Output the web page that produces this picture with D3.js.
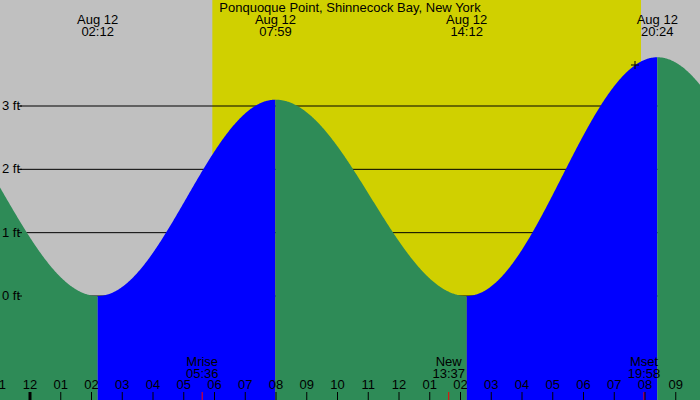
<!DOCTYPE html><html><head><script src="https://cdn.jsdelivr.net/npm/d3@7"></script>
<style>body{margin:0}svg{display:block;font-family:"Liberation Sans",Arial,sans-serif}</style></head><body><svg width="700" height="400"></svg><script>
const extremeHours=[-4.0,2.2,7.983,14.2,20.4,26.6];
const extremeFeet=[3.3,0.0,3.1,0.0,3.77,0.1];
const topLabels=[{h:2.2,t:"02:12"},{h:7.983,t:"07:59"},{h:14.2,t:"14:12"},{h:20.4,t:"20:24"}];
const sunrise=5.93, sunset=19.87;
const moonEvents=[{h:5.6,a:"Mrise",b:"05:36"},{h:13.617,a:"New",b:"13:37"},{h:19.967,a:"Mset",b:"19:58"}];
const hourTicks=d3.range(-1,22);
const ftTicks=[0,1,2,3];
const FS=13;
const svg=d3.select("svg");
const x=d3.scaleLinear().domain([0,8]).range([30,276]);
const y=d3.scaleLinear().domain([0,3]).range([296,106]);
function tide(h){let i=0;while(i<extremeHours.length-2&&h>extremeHours[i+1])i++;
 const h0=extremeHours[i],h1=extremeHours[i+1],v0=extremeFeet[i],v1=extremeFeet[i+1];
 const f=(h-h0)/(h1-h0);return v1+(v0-v1)*(1+Math.cos(Math.PI*f))/2;}
const h0=x.invert(0),h1=x.invert(700);
svg.append("rect").attr("width",700).attr("height",400).attr("fill","#c0c0c0");
svg.append("rect").attr("x",x(sunrise)).attr("width",x(sunset)-x(sunrise)).attr("height",400).attr("fill","#d0d000");
ftTicks.forEach(f=>{svg.append("line").attr("x1",20).attr("x2",700).attr("y1",y(f)).attr("y2",y(f)).attr("stroke","#000");});
const area=d3.area().x(d=>x(d)).y0(400).y1(d=>y(tide(d)));
function seg(a,b,col){const pts=d3.range(a,b,0.02).concat([b]);svg.append("path").attr("d",area(pts)).attr("fill",col);}
seg(h0,extremeHours[1],"#2e8b57");seg(extremeHours[1],extremeHours[2],"#0000ff");
seg(extremeHours[2],extremeHours[3],"#2e8b57");seg(extremeHours[3],extremeHours[4],"#0000ff");
seg(extremeHours[4],h1,"#2e8b57");
ftTicks.forEach(f=>{svg.append("line").attr("x1",18).attr("x2",22).attr("y1",y(f)).attr("y2",y(f)).attr("stroke","#000");
 svg.append("text").attr("x",2).attr("y",y(f)+4).attr("font-size",FS).text(f+" ft");});
svg.append("text").attr("x",350).attr("y",12).attr("text-anchor","middle").attr("font-size",FS).text("Ponquoque Point, Shinnecock Bay, New York");
topLabels.forEach(d=>{const g=svg.append("g").attr("text-anchor","middle").attr("font-size",FS);
 g.append("text").attr("x",x(d.h)).attr("y",24).text("Aug 12");g.append("text").attr("x",x(d.h)).attr("y",36).text(d.t);});
svg.append("path").attr("d",`M${631},65h8M635,61v8`).attr("stroke","#000");
moonEvents.forEach(d=>{const g=svg.append("g").attr("text-anchor","middle").attr("font-size",FS);
 g.append("text").attr("x",x(d.h)).attr("y",366).text(d.a);g.append("text").attr("x",x(d.h)).attr("y",378).text(d.b);
 svg.append("line").attr("x1",x(d.h)).attr("x2",x(d.h)).attr("y1",392).attr("y2",400).attr("stroke","red");});
hourTicks.forEach(h=>{const hh=((h%12)+12)%12||12;
 svg.append("text").attr("x",x(h)).attr("y",389).attr("text-anchor","middle").attr("font-size",FS).text(String(hh).padStart(2,"0"));
 svg.append("line").attr("x1",x(h)).attr("x2",x(h)).attr("y1",392).attr("y2",400).attr("stroke","#000").attr("stroke-width",h===0?3:1);});
</script></body></html>
